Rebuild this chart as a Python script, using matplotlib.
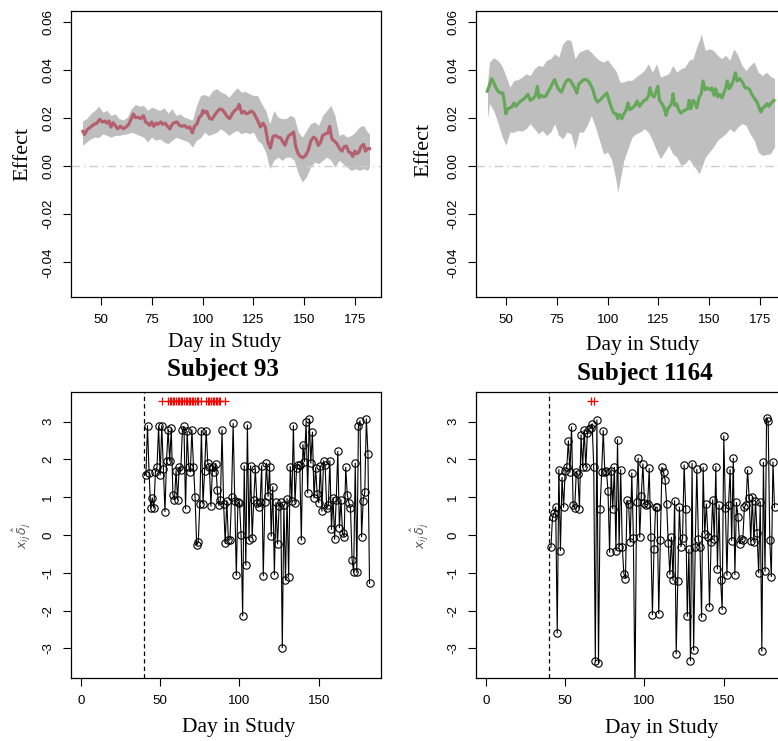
import numpy as np
import matplotlib
matplotlib.use('Agg')
import matplotlib.pyplot as plt

plt.rcParams['font.family'] = 'Liberation Sans'
plt.rcParams['axes.unicode_minus'] = False

# ---- Effect curve, subject 93 (top left) ----
eff93_day = [41.2, 42, 43.3, 45, 46.6, 48, 49.5, 50.7, 52, 53, 54, 55, 56, 57, 58.3, 59.6, 61, 62.4,
             63.7, 65, 66, 67, 68.5, 69.5, 71, 72, 73, 74, 75, 76, 77, 78, 79.5, 80.4, 81.6, 82.6,
             83.9, 85, 86, 87.5, 88.6, 90, 91, 92.4, 93.7, 95, 96, 97.3, 98.4, 99.4, 100.2, 101,
             102, 103.5, 104.6, 105.8, 107, 108.4, 109.7, 111, 112, 113.3, 114.6, 115.8, 117, 118,
             119.2, 120.4, 121.5, 122.6, 123.8, 124.8, 126, 127.2, 128.4, 129.7, 130.8, 132.1,
             133.3, 134.6, 135.7, 137, 138.2, 139.5, 140.5, 141.5, 142.4, 143.7, 144.7, 145.7,
             146.8, 148, 149.3, 150.6, 151.9, 153.2, 154.5, 155.7, 156.8, 158, 159, 160.4, 161.5,
             162.4, 163.5, 164.7, 166, 167.3, 168.5, 169.4, 170.6, 171.9, 172.9, 173.8, 174.8,
             175.8, 176.8, 177.9, 179.1, 180, 181, 182]
eff93 = [.0144, .0131, .0151, .0162, .0173, .0178, .0194, .0183, .0187, .0178, .0187, .0162, .0180,
         .0169, .0155, .0165, .0155, .0162, .0173, .0197, .0216, .0201, .0203, .0197, .0209, .0183,
         .0178, .0169, .0183, .0165, .0178, .0173, .0183, .0173, .0178, .0167, .0154, .0172, .0180,
         .0183, .0169, .0165, .0169, .0159, .0162, .0138, .0165, .0176, .0203, .0210, .0231, .0221,
         .0227, .0197, .0194, .0210, .0224, .0237, .0234, .0220, .0206, .0197, .0217, .0231, .0238,
         .0256, .0220, .0227, .0217, .0220, .0228, .0224, .0206, .0187, .0162, .0178, .0162, .0100,
         .0075, .0123, .0127, .0120, .0118, .0100, .0086, .0113, .0127, .0134, .0141, .0083, .0054,
         .0040, .0035, .0044, .0065, .0104, .0120, .0113, .0086, .0100, .0127, .0134, .0137, .0165,
         .0113, .0104, .0093, .0072, .0062, .0079, .0083, .0058, .0054, .0040, .0062, .0051, .0058,
         .0082, .0090, .0062, .0072, .0072]
band93_day = [41, 43, 45, 47, 49, 51, 53, 55, 57, 59, 61, 63, 65, 67, 69, 71, 73, 75, 77, 79, 81, 83,
              85, 87, 89, 91, 93, 95, 97, 99, 101, 103, 105, 107, 109, 111, 113, 115, 117, 119, 121,
              123, 125, 127, 129, 131, 133, 135, 137, 139, 141, 143, 145, 147, 149, 151, 153, 155,
              157, 159, 161, 163, 165, 167, 169, 171, 173, 175, 177, 179, 181, 182]
up93 = [.0187, .0197, .0217, .0231, .0248, .0224, .0231, .0210, .0217, .0197, .0192, .0203, .0238,
        .0256, .0248, .0252, .0231, .0245, .0238, .0231, .0242, .0220, .0238, .0210, .0217, .0203,
        .0197, .0190, .0252, .0293, .0297, .0289, .0314, .0321, .0307, .0300, .0286, .0307, .0325,
        .0307, .0310, .0300, .0293, .0293, .0259, .0231, .0176, .0231, .0203, .0197, .0197, .0210,
        .0203, .0141, .0120, .0148, .0176, .0183, .0169, .0210, .0231, .0252, .0210, .0127, .0134,
        .0120, .0127, .0141, .0162, .0169, .0141, .0134]
lo93 = [.0086, .0100, .0113, .0120, .0118, .0134, .0127, .0120, .0127, .0127, .0131, .0134, .0141,
        .0134, .0127, .0120, .0100, .0120, .0107, .0113, .0100, .0093, .0107, .0120, .0113, .0107,
        .0100, .0079, .0107, .0118, .0141, .0127, .0134, .0141, .0155, .0141, .0127, .0141, .0148,
        .0134, .0141, .0134, .0141, .0107, .0093, .0058, -.0011, .0024, .0037, .0024, .0037, .0037,
        .0024, -.0032, -.0066, -.0046, -.0004, .0017, .0010, .0024, .0037, .0024, -.0004, .0024,
        .0010, -.0004, -.0018, -.0011, -.0018, -.0011, -.0018, -.0004]

# ---- Effect curve, subject 1164 (top right) ----
eff1164_day = [40.9, 41.8, 43.1, 44.3, 45.4, 46.6, 47.6, 48.5, 49.2, 50, 51, 52, 53, 54, 55, 56, 57.3,
               58.5, 59.8, 60.9, 62, 63.4, 64.7, 65.5, 66.3, 67.4, 68.4, 69.6, 70.7, 71.9, 72.8, 74,
               75, 76.1, 77.3, 78.2, 79.4, 80.5, 81.7, 82.6, 83.8, 84.9, 85.9, 87, 88.2, 89.3, 90.5,
               91.6, 92.8, 93.9, 95, 96.2, 97.3, 98.5, 99.6, 100.8, 101.9, 103, 104.2, 105, 105.8,
               107, 108, 109.1, 110, 111, 112.3, 113.5, 114.5, 115.6, 116.7, 117.9, 119, 120.2, 120.8,
               121.8, 122.9, 123.9, 124.7, 125.5, 126.7, 127.8, 128.7, 129.6, 130.6, 131.6, 132.2,
               132.9, 133.9, 134.9, 136, 137.1, 138.3, 139.4, 140.1, 140.9, 142, 143, 143.8, 145,
               146, 146.9, 147.9, 149, 150.2, 151.2, 152.3, 153.1, 154.1, 155.1, 156.1, 157.1, 158.1,
               158.8, 159.8, 160.8, 161.8, 162.8, 163.7, 164.9, 166.2, 167.5, 168.6, 169.8, 171.1,
               172.2, 173.4, 174.3, 175.3, 176.3, 177.3, 178.4, 179.2, 180.4, 181.7]
eff1164 = [.0311, .0331, .0363, .0342, .0321, .0307, .0304, .0303, .0273, .0217, .0238, .0242, .0245,
           .0262, .0248, .0259, .0270, .0276, .0287, .0298, .0273, .0280, .0294, .0331, .0283, .0294,
           .0287, .0290, .0307, .0325, .0342, .0359, .0335, .0317, .0307, .0325, .0349, .0359, .0356,
           .0342, .0325, .0303, .0342, .0349, .0359, .0360, .0353, .0339, .0317, .0283, .0266, .0273,
           .0283, .0294, .0303, .0270, .0242, .0220, .0217, .0197, .0214, .0197, .0217, .0231, .0262,
           .0234, .0242, .0252, .0270, .0248, .0259, .0273, .0276, .0294, .0325, .0294, .0287, .0311,
           .0331, .0273, .0259, .0242, .0210, .0238, .0248, .0266, .0300, .0252, .0259, .0234, .0220,
           .0228, .0234, .0238, .0273, .0238, .0273, .0262, .0242, .0287, .0300, .0353, .0317, .0325,
           .0317, .0325, .0294, .0321, .0287, .0298, .0283, .0303, .0325, .0353, .0321, .0335, .0356,
           .0387, .0353, .0363, .0349, .0325, .0325, .0317, .0294, .0280, .0266, .0245, .0224, .0242,
           .0248, .0259, .0248, .0262, .0273]
band1164_day = [41, 42, 44, 46, 48, 50, 52, 54, 56, 58, 60, 62, 64, 66, 68, 70, 72, 74, 76, 78, 80,
                82, 84, 86, 88, 90, 92, 94, 96, 98, 100, 102, 104, 105, 106, 108, 110, 112, 114, 116,
                118, 120, 122, 124, 126, 128, 130, 132, 134, 136, 138, 140, 142, 144, 145, 146, 148,
                150, 152, 154, 156, 158, 160, 162, 164, 166, 168, 170, 172, 174, 176, 178, 180, 182]
up1164 = [.0349, .0432, .0450, .0439, .0418, .0376, .0328, .0356, .0359, .0370, .0383, .0376, .0404,
          .0418, .0414, .0439, .0446, .0466, .0453, .0508, .0525, .0522, .0446, .0473, .0480, .0487,
          .0473, .0453, .0439, .0432, .0442, .0418, .0397, .0376, .0349, .0349, .0356, .0356, .0370,
          .0383, .0397, .0425, .0390, .0425, .0370, .0376, .0383, .0418, .0390, .0404, .0411, .0439,
          .0446, .0501, .0520, .0549, .0480, .0487, .0480, .0460, .0446, .0460, .0439, .0487, .0460,
          .0418, .0397, .0418, .0432, .0390, .0376, .0390, .0373, .0363]
lo1164 = [.0197, .0259, .0231, .0183, .0127, .0086, .0141, .0141, .0148, .0145, .0155, .0176, .0155,
          .0134, .0148, .0127, .0141, .0176, .0127, .0113, .0141, .0134, .0072, .0141, .0141, .0169,
          .0210, .0162, .0107, .0051, .0058, .0026, -.0053, -.0108, -.0066, .0024, .0072, .0120,
          .0134, .0141, .0155, .0141, .0107, .0065, .0030, .0058, .0086, .0051, .0037, .0003, .0010,
          .0030, .0003, -.0018, -.0032, -.0011, .0037, .0058, .0079, .0107, .0120, .0134, .0155,
          .0141, .0162, .0176, .0169, .0134, .0107, .0058, .0044, .0048, .0051, .0079]

# ---- Daily x_ij * delta_j, days 41..182 ----
days = np.arange(41, 183)
x93 = [1.59, 2.89, 1.64, 0.71, 0.98, 0.71, 1.66, 1.80, 2.87, 1.59, 2.89, 1.75, 0.62, 1.96, 2.78, 1.95,
       2.82, 1.07, 0.93, 1.70, 0.93, 1.79, 1.73, 2.77, 2.87, 0.69, 2.74, 1.81, 1.67, 2.78, 1.81, 1.00,
       -0.27, -0.19, 0.82, 2.76, 0.82, 1.69, 2.76, 1.90, 1.81, 0.76, 1.81, 1.67, 1.89, 1.19, 0.78, 0.93,
       2.78, 0.83, -0.22, 0.91, -0.13, -0.13, 1.00, 2.95, 0.90, -1.07, 0.87, 0.85, 0.00, -2.14, 1.83,
       -0.80, 2.91, -0.13, 1.83, -0.07, 0.93, 1.75, 0.84, 0.75, 0.86, 1.83, -1.08, 0.87, 1.90, 1.02,
       1.81, -0.03, 1.28, -1.05, 0.86, -0.24, 0.76, 0.87, -2.98, 0.78, -1.19, 0.96, -1.10, 1.81, 0.89,
       2.89, 0.85, 1.76, 1.86, 1.85, -0.14, 2.39, 1.94, 2.98, 1.11, 3.07, 1.90, 2.72, 0.98, 1.78, 1.08,
       0.85, 1.83, 0.63, 1.96, 1.85, 0.71, 0.78, 1.96, 0.15, 0.99, -0.11, 0.93, 2.21, 0.19, 0.93, 0.04,
       -0.04, 1.79, 1.05, 0.85, 0.71, -0.65, -0.99, 1.90, -0.99, 2.89, 3.02, -0.05, 0.91, 1.13, 3.07,
       2.15, -1.28]
x1164 = [-0.33, 0.47, 0.58, 0.74, -2.59, 1.73, -0.41, 1.52, 0.73, 1.70, 1.79, 2.49, 1.66, 2.86, 0.78,
         0.71, 1.66, 1.62, 0.69, 2.65, 1.79, 2.78, 1.79, 2.70, 2.80, 2.82, 2.94, 1.81, -3.34, 3.04,
         -3.38, 0.69, 1.66, 2.76, 1.66, 1.70, 1.17, -0.46, 1.70, 0.69, 1.79, -0.41, 2.52, -0.31, 1.73,
         -0.31, -1.02, -1.15, 0.92, 0.81, -0.19, 1.64, -0.07, -4.30, 0.87, 2.03, -0.06, 1.04, 1.88,
         0.85, 0.80, 0.82, 1.76, -0.04, -2.11, -0.37, 0.74, 0.73, -2.08, -0.12, 1.79, 1.66, 1.45, 0.82,
         -0.21, -1.04, -0.06, -1.20, 0.91, -3.14, -1.21, 0.74, -0.31, -0.09, 1.85, 0.70, -2.15, -0.38,
         -3.32, 1.89, -3.05, -0.31, 1.74, -0.11, -0.33, -2.18, 1.79, 0.03, 0.82, -0.04, -1.90, -0.19,
         0.93, -0.10, 1.81, -0.90, 0.80, -1.20, -1.97, 2.62, 0.71, -1.07, 0.78, 1.73, -0.15, 2.03,
         -1.05, 0.86, 0.47, -0.23, -0.10, -0.12, 0.74, 0.80, 1.72, 0.98, -0.17, 1.00, -0.19, 0.89, 0.04,
         -1.00, 0.88, -3.07, 1.92, -0.96, 3.10, 3.01, -0.13, -1.10, 1.93, 0.73]
flag93 = [51, 55, 56, 57, 58, 59, 60, 61, 62, 63, 64, 65, 66, 67, 68, 69, 70, 71, 72, 73, 74, 76,
          79, 80, 81, 82, 83, 84, 85, 86, 87, 88, 91]
flag1164 = [66, 68]
flag_y = 3.54

W, H = 778, 741
fig = plt.figure(figsize=(W / 100, H / 100), dpi=100)


def box(x0, y0, x1, y1):
    return [x0 / W, 1 - y1 / H, (x1 - x0) / W, (y1 - y0) / H]


def style(ax):
    for s in ax.spines.values():
        s.set_linewidth(0.9)
    ax.tick_params(direction='out', length=5.5, width=0.8, pad=6.5, labelsize=9.6)
    for lab in ax.get_yticklabels():
        lab.set_rotation(90)
        lab.set_va('center')


serif = 'Liberation Serif'


def effect_panel(rect, dline, vline, dband, upper, lower, col):
    ax = fig.add_axes(rect)
    ax.fill_between(dband, lower, upper, color='#BEBEBE', lw=0)
    ax.axhline(0, color='#CCCCCC', lw=1.0, ls=(0, (6, 3, 1, 3)))
    ax.plot(dline, vline, color=col, lw=2.3, solid_joinstyle='round')
    ax.set_xlim(35.36, 187.64)
    ax.set_ylim(-0.0544, 0.0644)
    ax.set_xticks([50, 75, 100, 125, 150, 175])
    ax.set_yticks([-0.04, -0.02, 0.0, 0.02, 0.04, 0.06])
    ax.set_yticklabels(['-0.04', '-0.02', '0.00', '0.02', '0.04', '0.06'])
    style(ax)
    return ax


def subject_panel(rect, vals, flags):
    ax = fig.add_axes(rect)
    ax.axvline(40, color='black', lw=0.9, ls=(0, (3.5, 2.5)))
    ax.plot(days, vals, '-o', color='black', lw=0.8, ms=5.3, mfc='none', mew=0.8)
    ax.plot(flags, [flag_y] * len(flags), '+', color='red', ms=5.5, mew=0.9, ls='none')
    ax.set_xlim(-6.24, 189.24)
    ax.set_ylim(-3.78, 3.78)
    ax.set_xticks([0, 50, 100, 150])
    ax.set_yticks([-3, -2, -1, 0, 1, 2, 3])
    style(ax)
    return ax


effect_panel(box(71, 11, 381, 297), eff93_day, eff93, band93_day, up93, lo93, '#B5606E')
effect_panel(box(476, 11, 786, 297), eff1164_day, eff1164, band1164_day, up1164, lo1164, '#66A85A')
subject_panel(box(71, 392, 381, 678), x93, flag93)
subject_panel(box(476, 392, 786, 678), x1164, flag1164)


def ftext(x, y, s, **kw):
    fig.text(x / W, 1 - y / H, s, **kw)


# axis labels and titles placed where they sit in the original
ftext(22.7, 154, 'Effect', family=serif, fontsize=16, rotation=90, ha='center', va='center')
ftext(424.3, 150, 'Effect', family=serif, fontsize=16, rotation=90, ha='center', va='center')
ftext(224.7, 347, 'Day in Study', family=serif, fontsize=15.5, ha='center', va='baseline')
ftext(642.3, 350, 'Day in Study', family=serif, fontsize=15.5, ha='center', va='baseline')
ftext(223.3, 376, 'Subject 93', family=serif, fontsize=18, fontweight='bold', ha='center', va='baseline')
ftext(645, 380, 'Subject 1164', family=serif, fontsize=18, fontweight='bold', ha='center', va='baseline')
ftext(239, 732, 'Day in Study', family=serif, fontsize=15.5, ha='center', va='baseline')
ftext(661.7, 733, 'Day in Study', family=serif, fontsize=15.5, ha='center', va='baseline')
ftext(21.7, 535, r'$x_{ij}\,\hat{\delta}_j$', fontsize=9, color='#555555', rotation=90, ha='center', va='center')
ftext(420, 535, r'$x_{ij}\,\hat{\delta}_j$', fontsize=9, color='#555555', rotation=90, ha='center', va='center')

fig.savefig('out.png', dpi=100)
